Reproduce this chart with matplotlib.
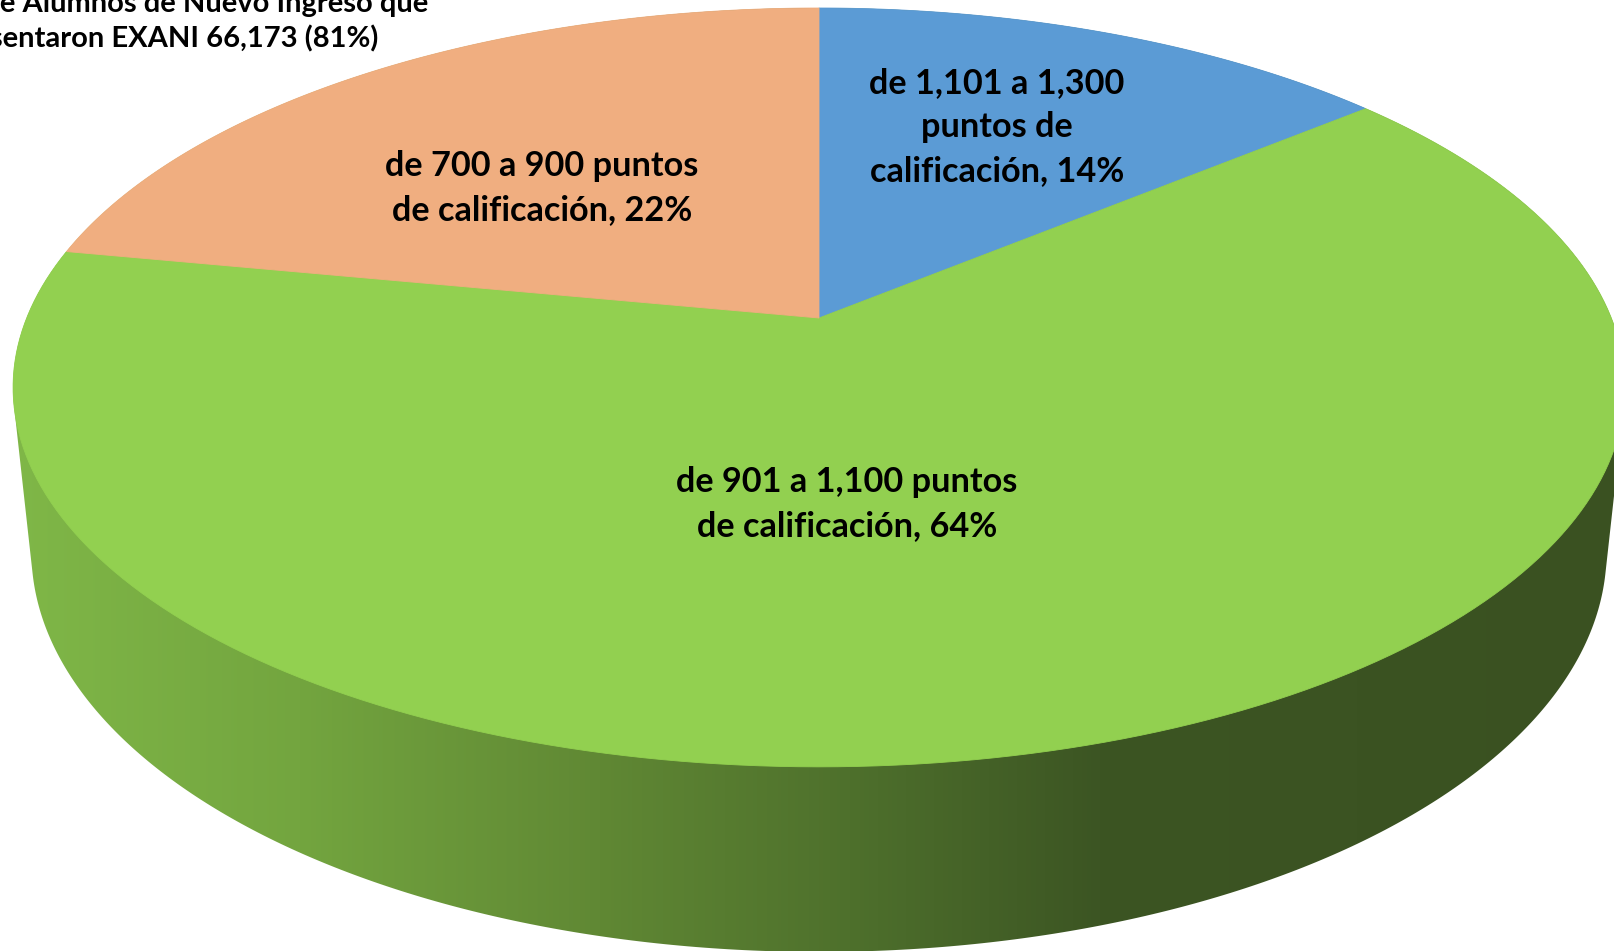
import numpy as np
import matplotlib
matplotlib.use("Agg")
import matplotlib.pyplot as plt
from matplotlib.patches import Polygon

# Datos del grafico
categorias = ["de 1,101 a 1,300\npuntos de\ncalificación",
              "de 901 a 1,100 puntos\nde calificación",
              "de 700 a 900 puntos\nde calificación"]
porcentajes = [14, 64, 22]
colores = ["#5B9BD5", "#92D050", "#F0AE80"]
titulo = ["Total de Alumnos de Nuevo Ingreso que",
          "presentaron EXANI 66,173 (81%)"]

# posiciones de etiquetas (pixeles)
pos_etiquetas = [(997, 127), (847, 504), (542, 188)]

# camara de la vista 3D (pixeles)
ANCHO, ALTO = 1614, 951
px, py = 819, 318
F = 3838.0
D = 4.844
phi = np.radians(27.57)
s, c = np.sin(phi), np.cos(phi)
grosor = 0.2356
TAM = 24.7
TAM_TITULO = 21


def proyectar(theta, nivel):
    X = np.cos(theta)
    Z = np.sin(theta)
    w = D - nivel * s + c * Z
    up = nivel * c + s * Z
    return px + F * X / w, py - F * up / w


def casco_convexo(puntos):
    pts = sorted(set(map(tuple, puntos)))
    def cruz(o, a, b):
        return (a[0] - o[0]) * (b[1] - o[1]) - (a[1] - o[1]) * (b[0] - o[0])
    inf, sup = [], []
    for p in pts:
        while len(inf) >= 2 and cruz(inf[-2], inf[-1], p) <= 0:
            inf.pop()
        inf.append(p)
    for p in reversed(pts):
        while len(sup) >= 2 and cruz(sup[-2], sup[-1], p) <= 0:
            sup.pop()
        sup.append(p)
    return np.array(inf[:-1] + sup[:-1])


fig = plt.figure(figsize=(ANCHO / 100, ALTO / 100), dpi=100)
ax = fig.add_axes([0, 0, 1, 1])
ax.set_xlim(0, ANCHO)
ax.set_ylim(ALTO, 0)
ax.axis("off")

# lado del cilindro (solo se ve la rebanada verde)
tt = np.linspace(0, 2 * np.pi, 721)
xa, ya = proyectar(tt, 0.0)
xb, yb = proyectar(tt, -grosor)
casco = casco_convexo(np.column_stack([np.r_[xa, xb], np.r_[ya, yb]]))
lado = Polygon(casco, closed=True, facecolor="none", edgecolor="none")
ax.add_patch(lado)

xs_grad = [0, 300, 600, 850, 1100, ANCHO]
cols_grad = np.array([(128, 184, 72), (115, 165, 63), (96, 136, 52),
                      (78, 112, 44), (60, 85, 35), (58, 81, 33)]) / 255.0
xx = np.arange(ANCHO)
grad = np.stack([np.interp(xx, xs_grad, cols_grad[:, k]) for k in range(3)], axis=-1)
img = ax.imshow(grad[np.newaxis, :, :], extent=[0, ANCHO, ALTO, 0],
                aspect="auto", zorder=1, interpolation="bilinear")
img.set_clip_path(lado)

# tapa superior: rebanadas en sentido horario desde las 12
inicio = 90.0
for pct, col in zip(porcentajes, colores):
    fin = inicio - pct * 3.6
    th = np.radians(np.linspace(inicio, fin, 200))
    bx, by = proyectar(th, 0.0)
    verts = np.column_stack([np.r_[px, bx], np.r_[py, by]])
    ax.add_patch(Polygon(verts, closed=True, facecolor=col, edgecolor=col,
                         lw=0.6, zorder=2))
    inicio = fin

# etiquetas
for cat, pct, (lx, ly) in zip(categorias, porcentajes, pos_etiquetas):
    ax.text(lx, ly, f"{cat}, {pct}%", ha="center", va="center",
            fontsize=TAM, fontweight="bold", family="Lato",
            linespacing=1.45, color="black", zorder=3)

# titulo (cortado en la esquina)
ax.text(428, 12, titulo[0], ha="right", va="baseline", fontsize=TAM_TITULO,
        fontweight="bold", family="Lato", zorder=3)
ax.text(378, 47, titulo[1], ha="right", va="baseline", fontsize=TAM_TITULO,
        fontweight="bold", family="Lato", zorder=3)

fig.savefig("out.png", dpi=100)
